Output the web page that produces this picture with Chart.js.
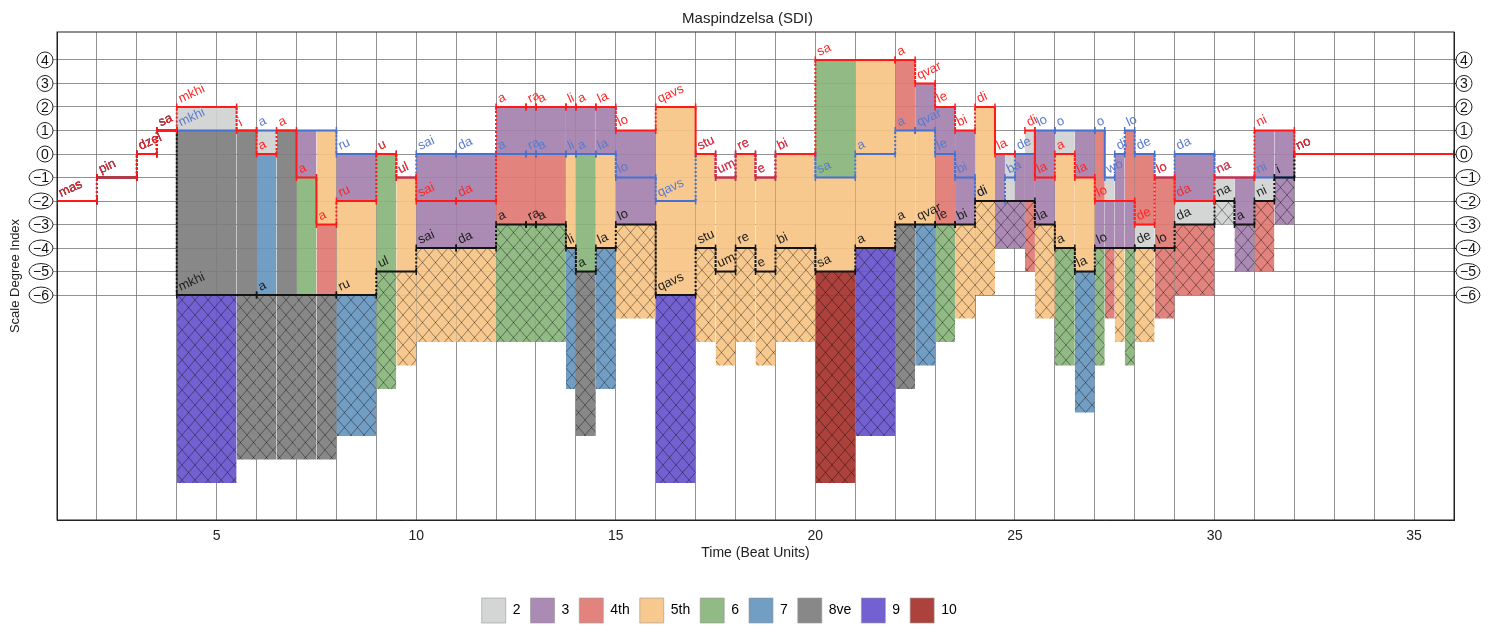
<!DOCTYPE html>
<html>
<head>
    <title>Maspindzelsa (SDI)</title>
    <script src="https://cdn.jsdelivr.net/npm/chart.js@4.4.0/dist/chart.umd.min.js"></script>
    <style>
        body { margin: 0; background: #fff; }
        .chart-container { width: 1495px; height: 633px; position: relative; }
    </style>
</head>
<body>
    <div class="chart-container"><canvas id="myChart"></canvas></div>

    <script>
        // voice segments: [start beat, end beat, scale degree, syllable]
        const topVoice = [
            [1, 2, -2, 'mas'], [2, 3, -1, 'pin'], [3, 3.5, 0, 'dzel'], [3.5, 4, 1, 'sa'],
            [4, 5.5, 2, 'mkhi'], [5.5, 6, 1, 'i'], [6, 6.5, 0, 'a'], [6.5, 7, 1, 'a'],
            [7, 7.5, -1, 'a'], [7.5, 8, -3, 'a'], [8, 9, -2, 'ru'], [9, 9.5, 0, 'u'],
            [9.5, 10, -1, 'ul'], [10, 11, -2, 'sai'], [11, 12, -2, 'da'], [12, 12.75, 2, 'a'],
            [12.75, 13, 2, 'ra'], [13, 13.75, 2, 'a'], [13.75, 14, 2, 'li'], [14, 14.5, 2, 'a'],
            [14.5, 15, 2, 'la'], [15, 16, 1, 'lo'], [16, 17, 2, 'qavs'], [17, 17.5, 0, 'stu'],
            [17.5, 18, -1, 'um'], [18, 18.5, 0, 're'], [18.5, 19, -1, 'e'], [19, 20, 0, 'bi'],
            [20, 22, 4, 'sa'], [22, 22.5, 4, 'a'], [22.5, 23, 3, 'qvar'], [23, 23.5, 2, 'le'],
            [23.5, 24, 1, 'bi'], [24, 24.5, 2, 'di'], [24.5, 25, 0, 'la'], [25.25, 25.5, 1, 'di'],
            [25.5, 26, -1, 'la'], [26, 26.5, 0, 'a'], [26.5, 27, -1, 'la'], [27, 28, -2, 'lo'],
            [28, 28.5, -3, 'de'], [28.5, 29, -1, 'lo'], [29, 30, -2, 'da'], [30, 31, -1, 'na'],
            [31, 32, 1, 'ni'], [32, 36, 0, 'no']
        ];
        const middleVoice = [
            [1, 2, -2, 'mas'], [2, 3, -1, 'pin'], [3, 3.5, 0, 'dzel'], [3.5, 4, 1, 'sa'],
            [4, 6, 1, 'mkhi'], [6, 8, 1, 'a'], [8, 9, 0, 'ru'], [9, 9.5, 0, 'u'],
            [9.5, 10, -1, 'ul'], [10, 11, 0, 'sai'], [11, 12, 0, 'da'], [12, 12.75, 0, 'a'],
            [12.75, 13, 0, 'ra'], [13, 13.75, 0, 'a'], [13.75, 14, 0, 'li'], [14, 14.5, 0, 'a'],
            [14.5, 15, 0, 'la'], [15, 16, -1, 'lo'], [16, 17, -2, 'qavs'], [17, 17.5, 0, 'stu'],
            [17.5, 18, -1, 'um'], [18, 18.5, 0, 're'], [18.5, 19, -1, 'e'], [19, 20, 0, 'bi'],
            [20, 21, -1, 'sa'], [21, 22, 0, 'a'], [22, 22.5, 1, 'a'], [22.5, 23, 1, 'qvar'],
            [23, 23.5, 0, 'le'], [23.5, 24, -1, 'bi'], [24, 24.75, -2, 'di'], [24.75, 25, -1, 'ba'],
            [25, 25.5, 0, 'de'], [25.5, 26, 1, 'lo'], [26, 27, 1, 'o'], [27, 27.25, 1, 'o'],
            [27.25, 27.5, -1, 'wo'], [27.5, 27.75, 0, 'di'], [27.75, 28, 1, 'lo'], [28, 28.5, 0, 'de'],
            [28.5, 29, -1, 'lo'], [29, 30, 0, 'da'], [30, 31, -1, 'na'], [31, 31.5, -1, 'ni'],
            [31.5, 32, -1, 'i'], [32, 36, 0, 'no']
        ];
        const bassVoice = [
            [1, 2, -2, 'mas'], [2, 3, -1, 'pin'], [3, 3.5, 0, 'dzel'], [3.5, 4, 1, 'sa'],
            [4, 6, -6, 'mkhi'], [6, 8, -6, 'a'], [8, 9, -6, 'ru'], [9, 10, -5, 'ul'],
            [10, 11, -4, 'sai'], [11, 12, -4, 'da'], [12, 12.75, -3, 'a'], [12.75, 13, -3, 'ra'],
            [13, 13.75, -3, 'a'], [13.75, 14, -4, 'li'], [14, 14.5, -5, 'a'], [14.5, 15, -4, 'la'],
            [15, 16, -3, 'lo'], [16, 17, -6, 'qavs'], [17, 17.5, -4, 'stu'], [17.5, 18, -5, 'um'],
            [18, 18.5, -4, 're'], [18.5, 19, -5, 'e'], [19, 20, -4, 'bi'], [20, 21, -5, 'sa'],
            [21, 22, -4, 'a'], [22, 22.5, -3, 'a'], [22.5, 23, -3, 'qvar'], [23, 23.5, -3, 'le'],
            [23.5, 24, -3, 'bi'], [24, 25.5, -2, 'di'], [25.5, 26, -3, 'la'], [26, 26.5, -4, 'a'],
            [26.5, 27, -5, 'la'], [27, 28, -4, 'lo'], [28, 28.5, -4, 'de'], [28.5, 29, -4, 'lo'],
            [29, 30, -3, 'da'], [30, 30.5, -2, 'na'], [30.5, 31, -3, 'a'], [31, 31.5, -2, 'ni'],
            [31.5, 32, -1, 'i'], [32, 36, 0, 'no']
        ];

        const intervalNames = ['2', '3', '4th', '5th', '6', '7', '8ve', '9', '10'];
        const intervalColors = [
            'rgba(208,209,209,0.92)', 'rgba(164,128,174,0.92)', 'rgba(224,120,114,0.92)',
            'rgba(247,196,133,0.92)', 'rgba(137,180,121,0.92)', 'rgba(103,150,191,0.92)',
            'rgba(126,126,126,0.92)', 'rgba(104,84,205,0.92)', 'rgba(166,50,44,0.92)'
        ];
        const yTickValues = [4, 3, 2, 1, 0, -1, -2, -3, -4, -5, -6];
        const xTickLabels = [5, 10, 15, 20, 25, 30, 35];

        const FONT = 'Helvetica, Arial, "Liberation Sans", sans-serif';

        function hatch(color) {
            const c = document.createElement('canvas');
            c.width = 13; c.height = 15;
            const g = c.getContext('2d');
            g.fillStyle = color;
            g.fillRect(0, 0, 13, 15);
            g.strokeStyle = 'rgba(0,0,0,0.45)';
            g.lineWidth = 0.9;
            g.beginPath();
            g.moveTo(0, 0); g.lineTo(13, 15);
            g.moveTo(13, 0); g.lineTo(0, 15);
            g.stroke();
            return g.createPattern(c, 'repeat');
        }
        const hatchPatterns = intervalColors.map(hatch);

        function degreeAt(voice, t) {
            const s = voice.find(s => s[0] <= t && t < s[1]);
            return s ? s[2] : null;
        }

        // interval blocks between the sorted voices, plus hatched outer interval under the bass
        function buildIntervalSets() {
            const sets = [];
            const all = topVoice.concat(middleVoice, bassVoice);
            const bounds = [...new Set(all.flatMap(s => [s[0], s[1]]))].sort((a, b) => a - b);
            for (let i = 0; i < bounds.length - 1; i++) {
                const t0 = bounds[i], t1 = bounds[i + 1], mid = (t0 + t1) / 2;
                const ps = [topVoice, middleVoice, bassVoice]
                    .map(v => degreeAt(v, mid))
                    .filter(v => v !== null)
                    .sort((a, b) => a - b);
                if (ps.length < 2) continue;
                const rect = (lo, hi, bg) => ({
                    data: [{x: t0, y: hi}, {x: t1, y: hi}],
                    fill: {value: lo},
                    backgroundColor: bg,
                    borderColor: 'transparent',
                    borderWidth: 0,
                    pointRadius: 0,
                    order: 10
                });
                for (let j = 0; j < ps.length - 1; j++) {
                    const d = ps[j + 1] - ps[j];
                    if (d > 0) sets.push(rect(ps[j], ps[j + 1], intervalColors[d - 1]));
                }
                const span = ps[ps.length - 1] - ps[0];
                if (span > 0) sets.push(rect(ps[0] - span, ps[0], hatchPatterns[span - 1]));
            }
            return sets;
        }

        function voicePoints(voice) {
            const pts = [];
            voice.forEach((s, i) => {
                if (i > 0 && voice[i - 1][1] !== s[0]) {
                    pts.push({x: (voice[i - 1][1] + s[0]) / 2, y: null});
                }
                pts.push({x: s[0], y: s[2]}, {x: s[1], y: s[2]});
            });
            return pts;
        }

        const voices = [
            {segs: middleVoice, color: 'rgb(72,112,205)', label: 'rgb(90,122,205)', order: 3},
            {segs: bassVoice, color: 'rgb(20,20,20)', label: 'rgb(30,30,30)', order: 2},
            {segs: topVoice, color: 'rgb(255,25,25)', label: 'rgb(250,40,40)', order: 1}
        ];

        const voiceSets = voices.map(v => ({
            data: voicePoints(v.segs),
            borderColor: v.color,
            borderWidth: 2,
            fill: false,
            spanGaps: false,
            pointStyle: 'line',
            rotation: 90,
            pointRadius: 3.5,
            pointBorderWidth: 1.5,
            pointBorderColor: v.color,
            order: v.order,
            segment: {
                borderDash: ctx => ctx.p0.parsed.y !== ctx.p1.parsed.y ? [2, 2] : undefined
            }
        }));

        const syllablePlugin = {
            id: 'syllables',
            afterDatasetsDraw(chart) {
                const {ctx, scales: {x, y}} = chart;
                ctx.save();
                ctx.font = '13px ' + FONT;
                ctx.textBaseline = 'alphabetic';
                voices.forEach(v => {
                    ctx.fillStyle = v.label;
                    v.segs.forEach(s => {
                        ctx.save();
                        ctx.translate(x.getPixelForValue(s[0]) + 4, y.getPixelForValue(s[2]) - 4);
                        ctx.rotate(-25 * Math.PI / 180);
                        ctx.fillText(s[3], 0, 0);
                        ctx.restore();
                    });
                });
                ctx.restore();
            }
        };

        const circledTicksPlugin = {
            id: 'circledTicks',
            afterDraw(chart) {
                const {ctx, chartArea, scales: {y}} = chart;
                ctx.save();
                ctx.strokeStyle = '#222';
                ctx.lineWidth = 1;
                ctx.strokeRect(chartArea.left, chartArea.top,
                    chartArea.right - chartArea.left, chartArea.bottom - chartArea.top);
                ctx.font = '14px ' + FONT;
                ctx.textAlign = 'center';
                ctx.textBaseline = 'middle';
                yTickValues.forEach(v => {
                    const py = y.getPixelForValue(v);
                    const txt = v < 0 ? '\u2212' + (-v) : String(v);
                    const w = ctx.measureText(txt).width;
                    const rx = Math.max(w / 2 + 4, 8), ry = 8;
                    [chartArea.left - 4 - rx, chartArea.right + 2 + rx].forEach(cx => {
                        ctx.beginPath();
                        ctx.ellipse(cx, py, rx, ry, 0, 0, 2 * Math.PI);
                        ctx.fillStyle = '#fff';
                        ctx.fill();
                        ctx.stroke();
                        ctx.fillStyle = '#111';
                        ctx.fillText(txt, cx, py + 1);
                    });
                });
                ctx.restore();
            }
        };

        const yTicks = scale => { scale.ticks = yTickValues.map(v => ({value: v})); };

        // legend entries; a blank trailing entry keeps the row left of centre as in the source
        const legendItems = () => intervalNames.map((name, i) => ({
            text: name,
            fillStyle: intervalColors[i],
            strokeStyle: 'rgba(150,150,150,0.6)',
            lineWidth: 1
        })).concat([{text: '    ', fillStyle: 'transparent', strokeStyle: 'transparent', lineWidth: 0}]);

        new Chart(document.getElementById('myChart'), {
            type: 'line',
            data: {datasets: buildIntervalSets().concat(voiceSets)},
            plugins: [syllablePlugin, circledTicksPlugin],
            options: {
                responsive: true,
                maintainAspectRatio: false,
                animation: false,
                layout: {padding: {bottom: 0}},
                plugins: {
                    title: {
                        display: true,
                        text: 'Maspindzelsa (SDI)',
                        color: '#222',
                        font: {size: 15, weight: 'normal', family: FONT},
                        padding: {top: 10, bottom: 4}
                    },
                    legend: {
                        position: 'bottom',
                        onClick: null,
                        labels: {
                            boxWidth: 24,
                            boxHeight: 25,
                            padding: 10,
                            color: '#111',
                            font: {size: 14, family: FONT},
                            generateLabels: legendItems
                        }
                    },
                    tooltip: {enabled: false}
                },
                scales: {
                    x: {
                        type: 'linear',
                        min: 1,
                        max: 36,
                        afterFit: s => { s.height = 68; },
                        ticks: {
                            stepSize: 1,
                            autoSkip: false,
                            maxRotation: 0,
                            padding: 8,
                            color: '#222',
                            font: {size: 14, family: FONT},
                            callback: v => xTickLabels.includes(v) ? v : ''
                        },
                        grid: {color: 'rgba(110,110,110,0.75)', drawTicks: false},
                        border: {color: '#222'},
                        title: {
                            display: true,
                            text: 'Time (Beat Units)',
                            color: '#222',
                            font: {size: 14, family: FONT},
                            padding: {top: 0, bottom: 26}
                        }
                    },
                    y: {
                        type: 'linear',
                        min: -15.57,
                        max: 5.19,
                        afterBuildTicks: yTicks,
                        afterFit: s => { s.width = 57; },
                        ticks: {color: 'transparent', font: {size: 14, family: FONT}},
                        grid: {color: 'rgba(110,110,110,0.75)', tickLength: 5},
                        border: {color: '#222'},
                        title: {
                            display: true,
                            text: 'Scale Degree Index',
                            color: '#222',
                            font: {size: 13, family: FONT},
                            padding: {top: 8, bottom: 0}
                        }
                    },
                    y2: {
                        type: 'linear',
                        position: 'right',
                        min: -15.57,
                        max: 5.19,
                        afterBuildTicks: yTicks,
                        afterFit: s => { s.width = 41; },
                        ticks: {color: 'transparent', font: {size: 14, family: FONT}},
                        grid: {drawOnChartArea: false, tickLength: 3, color: '#222'},
                        border: {color: '#222'}
                    }
                }
            }
        });
    </script>
</body>
</html>
